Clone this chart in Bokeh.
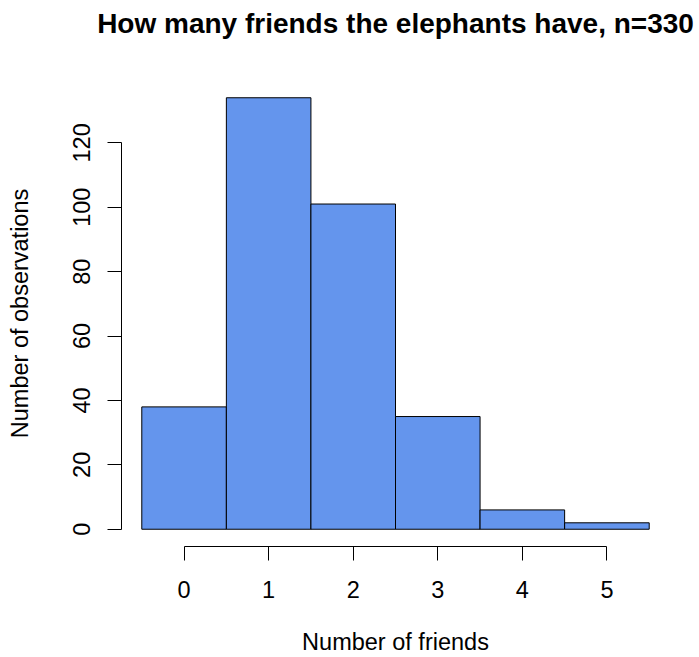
from bokeh.plotting import figure
from bokeh.models import Range1d, FixedTicker, Title
from bokeh.embed import file_html
from bokeh.resources import INLINE

friends = [0, 1, 2, 3, 4, 5]
counts = [38, 134, 101, 35, 6, 2]
x_ticks = [0, 1, 2, 3, 4, 5]
y_ticks = [0, 20, 40, 60, 80, 100, 120]
title_text = "How many friends the elephants have, n=330"

left = [f - 0.5 for f in friends]
right = [f + 0.5 for f in friends]

p = figure(width=699, height=657, output_backend="svg", toolbar_location=None,
           x_range=Range1d(-0.74, 5.74), y_range=Range1d(-5.36, 139.36),
           min_border_left=121, min_border_right=30, min_border_top=80, min_border_bottom=110,
           title=None)
p.outline_line_color = None
p.grid.grid_line_color = None
p.background_fill_color = "white"
p.border_fill_color = "white"

p.quad(left=left, right=right, top=counts, bottom=0,
       fill_color="#6495ED", line_color="black", line_width=1)

# spacer between frame and title (keeps the title near the top edge)
spacer = Title(text=" ", text_font="Liberation Sans", text_font_size="8px", standoff=31)
p.add_layout(spacer, "above")
main_title = Title(text=title_text, text_font="Liberation Sans", text_font_style="bold",
                   text_font_size="28px", text_color="black", align="center", standoff=0)
p.add_layout(main_title, "above")

for ax in (p.xaxis[0], p.yaxis[0]):
    ax.axis_line_color = "black"
    ax.major_tick_line_color = "black"
    ax.minor_tick_line_color = None
    ax.major_tick_out = 14
    ax.major_tick_in = 0
    ax.major_label_text_font = "Liberation Sans"
    ax.major_label_text_font_size = "23.5px"
    ax.major_label_text_color = "black"
    ax.axis_label_text_font = "Liberation Sans"
    ax.axis_label_text_font_size = "23.5px"
    ax.axis_label_text_font_style = "normal"
    ax.axis_label_text_color = "black"

p.xaxis[0].ticker = FixedTicker(ticks=x_ticks)
p.xaxis[0].bounds = (x_ticks[0], x_ticks[-1])
p.xaxis[0].axis_label = "Number of friends"
p.xaxis[0].major_label_standoff = 20
p.xaxis[0].axis_label_standoff = 28

p.yaxis[0].ticker = FixedTicker(ticks=y_ticks)
p.yaxis[0].bounds = (y_ticks[0], y_ticks[-1])
p.yaxis[0].axis_label = "Number of observations"
p.yaxis[0].major_label_orientation = "vertical"
p.yaxis[0].major_label_standoff = 17
p.yaxis[0].axis_label_standoff = 38

open("out.html", "w").write(file_html(p, INLINE))
